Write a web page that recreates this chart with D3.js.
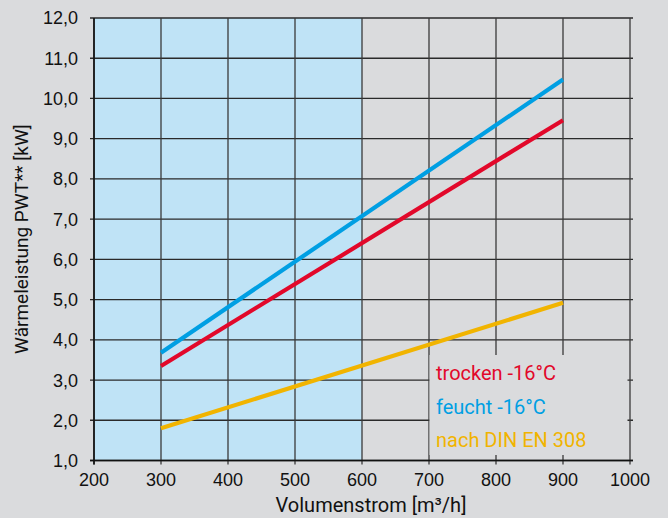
<!DOCTYPE html>
<html><head><meta charset="utf-8">
<script src="https://cdn.jsdelivr.net/npm/d3@7"></script>
<style>html,body{margin:0;padding:0;background:#dadbdd;}svg{display:block;}</style>
</head><body>
<svg id="c" width="668" height="518"></svg>
<script>
const xTicks = [200,300,400,500,600,700,800,900,1000];
const yTicks = [1,2,3,4,5,6,7,8,9,10,11,12];
const flow = [300, 900];
const trocken = [3.35, 9.46];
const feucht = [3.68, 10.47];
const din = [1.80, 4.92];
const seriesNames = ["trocken -16°C", "feucht -16°C", "nach DIN EN 308"];
const seriesColors = ["#e2082a", "#009fe3", "#f1b400"];
const blueRange = [200, 600];

const svg = d3.select("#c");
const x = d3.scaleLinear().domain([200,1000]).range([94,630]);
const y = d3.scaleLinear().domain([1,12]).range([460.5,18]);

svg.append("rect").attr("width",668).attr("height",518).attr("fill","#dadbdd");
svg.append("rect").attr("x",x(blueRange[0])).attr("y",y(12)).attr("width",x(blueRange[1])-x(blueRange[0])).attr("height",y(1)-y(12)).attr("fill","#bfe3f6");

const g = svg.append("g");
g.selectAll(".hg").data(yTicks).join("line")
 .attr("x1",x(200)-4).attr("x2",x(1000)+3)
 .attr("y1",d=>y(d)).attr("y2",d=>y(d))
 .attr("stroke","#2a2a2a").attr("stroke-width",1.3);
g.selectAll(".vg").data(xTicks).join("line")
 .attr("x1",d=>x(d)).attr("x2",d=>x(d))
 .attr("y1",y(12)).attr("y2",y(1)+4)
 .attr("stroke","#3a3a3a").attr("stroke-width",1.3);
g.append("line").attr("x1",x(200)).attr("x2",x(200)).attr("y1",y(12)).attr("y2",y(1)+4).attr("stroke","#111").attr("stroke-width",1.6);
g.append("line").attr("x1",x(200)-4).attr("x2",x(1000)+3).attr("y1",y(1)).attr("y2",y(1)).attr("stroke","#111").attr("stroke-width",1.6);

svg.append("rect").attr("x",429.5).attr("y",355).attr("width",198).attr("height",100).attr("fill","#dadbdd");

svg.selectAll(".yl").data(yTicks).join("text")
 .attr("x",78).attr("y",d=>y(d)).attr("dy","0.36em").attr("text-anchor","end")
 .attr("font-family","Liberation Sans, Arial, sans-serif").attr("font-size",18).attr("fill","#111")
 .text(d=>d3.format(".1f")(d).replace(".",","));
svg.selectAll(".xl").data(xTicks).join("text")
 .attr("x",d=>x(d)).attr("y",486).attr("text-anchor","middle")
 .attr("font-family","Liberation Sans, Arial, sans-serif").attr("font-size",18).attr("fill","#111")
 .text(d=>d);

svg.append("text").attr("x",371).attr("y",512).attr("text-anchor","middle")
 .attr("font-family","Roboto, sans-serif").attr("font-size",20).attr("fill","#111")
 .text("Volumenstrom [m³/h]");
svg.append("text").attr("transform","translate(28,239) rotate(-90)").attr("text-anchor","middle")
 .attr("font-family","Roboto, sans-serif").attr("font-size",19).attr("fill","#111")
 .text("Wärmeleistung PWT** [kW]");

const line = d3.line().x(d=>x(d[0])).y(d=>y(d[1]));
[trocken, feucht, din].forEach((s,i)=>{
  svg.append("path").datum(flow.map((f,j)=>[f,s[j]]))
   .attr("d",line).attr("fill","none").attr("stroke",seriesColors[i]).attr("stroke-width",4.2);
});

seriesNames.forEach((n,i)=>{
  svg.append("text").attr("x",436).attr("y",380+i*33.5)
   .attr("font-family","Roboto, sans-serif").attr("font-size",20).attr("fill",seriesColors[i])
   .text(n);
});
</script>
</body></html>
